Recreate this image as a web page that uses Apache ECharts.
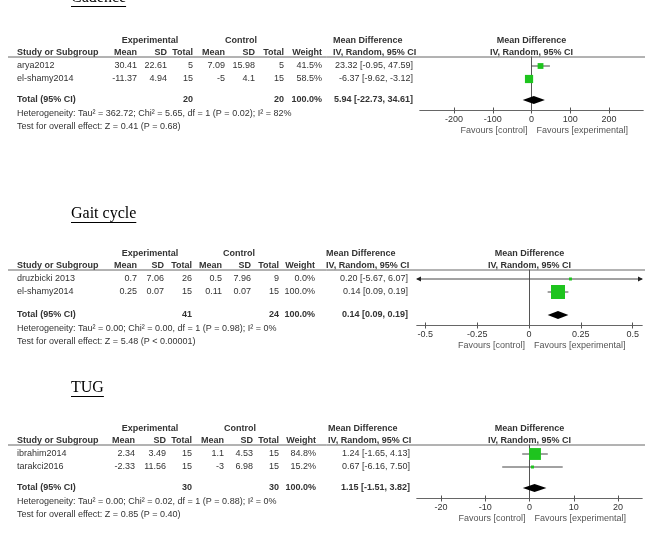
<!DOCTYPE html>
<html>
<head>
<meta charset="utf-8">
<script src="https://cdn.jsdelivr.net/npm/echarts@6/dist/echarts.min.js"></script>
<style>
  html, body { margin: 0; padding: 0; background: #fff; }
  #chart { width: 652px; height: 547px; }
</style>
</head>
<body>
<div id="chart"></div>
<script>
// ---- Cadence ----
const cadStudies = ['arya2012', 'el-shamy2014'];
const cadExpMean = [30.41, -11.37];
const cadExpSD = [22.61, 4.94];
const cadExpN = [5, 15];
const cadCtlMean = [7.09, -5];
const cadCtlSD = [15.98, 4.1];
const cadCtlN = [5, 15];
const cadWeight = [41.5, 58.5];
const cadMD = [23.32, -6.37];
const cadLo = [-0.95, -9.62];
const cadHi = [47.59, -3.12];
const cadTotal = [5.94, -22.73, 34.61];
const cadTicks = [-200, -100, 0, 100, 200];
const cadRange = [-288, 288];
const cadHet = 'Heterogeneity: Tau² = 362.72; Chi² = 5.65, df = 1 (P = 0.02); I² = 82%';
const cadTest = 'Test for overall effect: Z = 0.41 (P = 0.68)';

// ---- Gait cycle ----
const gaitStudies = ['druzbicki 2013', 'el-shamy2014'];
const gaitExpMean = [0.7, 0.25];
const gaitExpSD = [7.06, 0.07];
const gaitExpN = [26, 15];
const gaitCtlMean = [0.5, 0.11];
const gaitCtlSD = [7.96, 0.07];
const gaitCtlN = [9, 15];
const gaitWeight = [0.0, 100.0];
const gaitMD = [0.20, 0.14];
const gaitLo = [-5.67, 0.09];
const gaitHi = [6.07, 0.19];
const gaitTotal = [0.14, 0.09, 0.19];
const gaitTicks = [-0.5, -0.25, 0, 0.25, 0.5];
const gaitRange = [-0.54, 0.545];
const gaitHet = 'Heterogeneity: Tau² = 0.00; Chi² = 0.00, df = 1 (P = 0.98); I² = 0%';
const gaitTest = 'Test for overall effect: Z = 5.48 (P < 0.00001)';

// ---- TUG ----
const tugStudies = ['ibrahim2014', 'tarakci2016'];
const tugExpMean = [2.34, -2.33];
const tugExpSD = [3.49, 11.56];
const tugExpN = [15, 15];
const tugCtlMean = [1.1, -3];
const tugCtlSD = [4.53, 6.98];
const tugCtlN = [15, 15];
const tugWeight = [84.8, 15.2];
const tugMD = [1.24, 0.67];
const tugLo = [-1.65, -6.16];
const tugHi = [4.13, 7.50];
const tugTotal = [1.15, -1.51, 3.82];
const tugTicks = [-20, -10, 0, 10, 20];
const tugRange = [-25.4, 25.4];
const tugHet = 'Heterogeneity: Tau² = 0.00; Chi² = 0.02, df = 1 (P = 0.88); I² = 0%';
const tugTest = 'Test for overall effect: Z = 0.85 (P = 0.40)';

const FONT = '"Liberation Sans", Arial, Helvetica, sans-serif';
const SERIF = '"Liberation Serif", "Times New Roman", serif';
const TXT = '#333';
const ROW = 13; // px per study row

// layout of each block (pixels)
const panels = [
  {
    title: 'Cadence', titleY: -2, lineY: 57, gap: 21,
    cols: [137, 167, 193, 225, 255, 284, 322], expC: 150, ctlC: 241,
    mdLeft: 333, mdRight: 413, gridL: 420, gridR: 643,
    studies: cadStudies, expMean: cadExpMean, expSD: cadExpSD, expN: cadExpN,
    ctlMean: cadCtlMean, ctlSD: cadCtlSD, ctlN: cadCtlN, weight: cadWeight,
    md: cadMD, lo: cadLo, hi: cadHi, total: cadTotal, ticks: cadTicks, range: cadRange,
    het: cadHet, test: cadTest
  },
  {
    title: 'Gait cycle', titleY: 214, lineY: 270, gap: 23,
    cols: [137, 164, 192, 222, 251, 279, 315], expC: 150, ctlC: 239,
    mdLeft: 326, mdRight: 408, gridL: 417, gridR: 642,
    studies: gaitStudies, expMean: gaitExpMean, expSD: gaitExpSD, expN: gaitExpN,
    ctlMean: gaitCtlMean, ctlSD: gaitCtlSD, ctlN: gaitCtlN, weight: gaitWeight,
    md: gaitMD, lo: gaitLo, hi: gaitHi, total: gaitTotal, ticks: gaitTicks, range: gaitRange,
    het: gaitHet, test: gaitTest
  },
  {
    title: 'TUG', titleY: 388, lineY: 445, gap: 21,
    cols: [135, 166, 192, 224, 253, 279, 316], expC: 150, ctlC: 240,
    mdLeft: 328, mdRight: 410, gridL: 417, gridR: 642,
    studies: tugStudies, expMean: tugExpMean, expSD: tugExpSD, expN: tugExpN,
    ctlMean: tugCtlMean, ctlSD: tugCtlSD, ctlN: tugCtlN, weight: tugWeight,
    md: tugMD, lo: tugLo, hi: tugHi, total: tugTotal, ticks: tugTicks, range: tugRange,
    het: tugHet, test: tugTest
  }
];

const measureCtx = document.createElement('canvas').getContext('2d');
function textWidth(s, font) {
  measureCtx.font = font;
  return measureCtx.measureText(s).width;
}

function txt(x, y, s, align, bold, color) {
  return {
    type: 'text', x: x, y: y, silent: true,
    style: {
      text: s, fill: color || TXT,
      font: (bold ? 'bold ' : '') + '9px ' + FONT,
      align: align || 'left', verticalAlign: 'middle'
    }
  };
}
function hline(x1, x2, y, color) {
  return {
    type: 'line', silent: true,
    shape: { x1: x1, y1: y, x2: x2, y2: y },
    style: { stroke: color || '#666', lineWidth: 1 }
  };
}

const ci = (md, lo, hi) => md.toFixed(2) + ' [' + lo.toFixed(2) + ', ' + hi.toFixed(2) + ']';

const graphics = [];
const grids = [], xAxes = [], yAxes = [], series = [];

panels.forEach((p, k) => {
  const n = p.studies.length;
  const rowY = i => p.lineY + 9 + ROW * i;
  const totalY = rowY(n - 1) + p.gap;

  // title, underlined
  const tFont = '16px ' + SERIF;
  graphics.push({
    type: 'text', x: 71, y: p.titleY, silent: true,
    style: { text: p.title, fill: '#000', font: tFont, align: 'left', verticalAlign: 'middle' }
  });
  graphics.push(hline(71, 71 + textWidth(p.title, tFont), p.titleY + 8.5, '#000'));

  // headers
  const plotC = (p.gridL + p.gridR) / 2;
  graphics.push(txt(p.expC, p.lineY - 16, 'Experimental', 'center', true));
  graphics.push(txt(p.ctlC, p.lineY - 16, 'Control', 'center', true));
  graphics.push(txt(p.mdLeft, p.lineY - 16, 'Mean Difference', 'left', true));
  graphics.push(txt(plotC, p.lineY - 16, 'Mean Difference', 'center', true));
  graphics.push(txt(17, p.lineY - 4, 'Study or Subgroup', 'left', true));
  ['Mean', 'SD', 'Total', 'Mean', 'SD', 'Total', 'Weight'].forEach((h, j) => {
    graphics.push(txt(p.cols[j], p.lineY - 4, h, 'right', true));
  });
  graphics.push(txt(p.mdLeft, p.lineY - 4, 'IV, Random, 95% CI', 'left', true));
  graphics.push(txt(plotC, p.lineY - 4, 'IV, Random, 95% CI', 'center', true));
  graphics.push(hline(8, 645, p.lineY, '#666'));

  // study rows
  for (let i = 0; i < n; i++) {
    const y = rowY(i);
    const vals = [p.expMean[i], p.expSD[i], p.expN[i], p.ctlMean[i], p.ctlSD[i], p.ctlN[i]];
    graphics.push(txt(17, y, p.studies[i], 'left'));
    vals.forEach((v, j) => graphics.push(txt(p.cols[j], y, String(v), 'right')));
    graphics.push(txt(p.cols[6], y, p.weight[i].toFixed(1) + '%', 'right'));
    graphics.push(txt(p.mdRight, y, ci(p.md[i], p.lo[i], p.hi[i]), 'right'));
  }

  // total row
  const sumE = p.expN.reduce((a, b) => a + b, 0);
  const sumC = p.ctlN.reduce((a, b) => a + b, 0);
  graphics.push(txt(17, totalY, 'Total (95% CI)', 'left', true));
  graphics.push(txt(p.cols[2], totalY, String(sumE), 'right', true));
  graphics.push(txt(p.cols[5], totalY, String(sumC), 'right', true));
  graphics.push(txt(p.cols[6], totalY, '100.0%', 'right', true));
  graphics.push(txt(p.mdRight, totalY, ci(p.total[0], p.total[1], p.total[2]), 'right', true));
  graphics.push(txt(17, totalY + 13.5, p.het, 'left'));
  graphics.push(txt(17, totalY + 27, p.test, 'left'));

  // forest plot grid; y in row slots (1 slot = ROW px)
  const minSlot = 1 - 9 / ROW;
  const totalSlot = n + p.gap / ROW;
  const maxSlot = totalSlot + 10.5 / ROW;
  p.axisY = p.lineY + (maxSlot - minSlot) * ROW;

  grids.push({
    left: p.gridL, width: p.gridR - p.gridL,
    top: p.lineY, height: (maxSlot - minSlot) * ROW
  });
  const axisBase = {
    type: 'value', gridIndex: k, position: 'bottom',
    min: p.range[0], max: p.range[1],
    splitLine: { show: false },
    axisLine: { show: true, onZero: false, lineStyle: { color: '#666', width: 1 } }
  };
  xAxes.push(Object.assign({}, axisBase, {
    axisTick: { show: true, inside: false, length: 3, customValues: p.ticks, lineStyle: { color: '#555' } },
    axisLabel: { show: true, customValues: p.ticks, margin: 5, fontSize: 9, color: TXT, fontFamily: FONT }
  }));
  xAxes.push(Object.assign({}, axisBase, {
    axisTick: { show: true, inside: true, length: 3, customValues: p.ticks, lineStyle: { color: '#555' } },
    axisLabel: { show: false }
  }));
  yAxes.push({
    type: 'value', gridIndex: k, inverse: true, min: minSlot, max: maxSlot,
    axisLine: { show: true, onZero: true, lineStyle: { color: '#555', width: 1 } },
    axisTick: { show: false }, axisLabel: { show: false }, splitLine: { show: false }
  });

  const data = [];
  for (let i = 0; i < n; i++) data.push([p.md[i], p.lo[i], p.hi[i], i + 1, p.weight[i], 0]);
  data.push([p.total[0], p.total[1], p.total[2], totalSlot, 100, 1]);
  series.push({
    type: 'custom', xAxisIndex: k * 2, yAxisIndex: k,
    renderItem: renderForest, data: data, silent: true, clip: false
  });
});

function renderForest(params, api) {
  const md = api.value(0), lo = api.value(1), hi = api.value(2);
  const slot = api.value(3), w = api.value(4), kind = api.value(5);
  const cs = params.coordSys;
  const c = api.coord([md, slot]);
  let l = api.coord([lo, slot])[0];
  let r = api.coord([hi, slot])[0];
  if (kind === 1) {
    return {
      type: 'polygon',
      shape: { points: [[l, c[1]], [c[0], c[1] - 4], [r, c[1]], [c[0], c[1] + 4]] },
      style: { fill: '#000' }
    };
  }
  const xmin = cs.x, xmax = cs.x + cs.width;
  const arrowL = l < xmin, arrowR = r > xmax;
  l = Math.max(l, xmin);
  r = Math.min(r, xmax);
  const children = [{
    type: 'line', shape: { x1: l, y1: c[1], x2: r, y2: c[1] },
    style: { stroke: '#444', lineWidth: 1 }
  }];
  if (arrowL) children.push({
    type: 'polygon', shape: { points: [[l - 1, c[1]], [l + 4, c[1] - 2.5], [l + 4, c[1] + 2.5]] },
    style: { fill: '#222' }
  });
  if (arrowR) children.push({
    type: 'polygon', shape: { points: [[r + 1, c[1]], [r - 4, c[1] - 2.5], [r - 4, c[1] + 2.5]] },
    style: { fill: '#222' }
  });
  const s = Math.max(3, 14 * w / 100);
  children.push({
    type: 'rect', shape: { x: c[0] - s / 2, y: c[1] - s / 2, width: s, height: s },
    style: { fill: '#1ec41e' }
  });
  return { type: 'group', children: children };
}

const chart = echarts.init(document.getElementById('chart'), null, { renderer: 'canvas' });
chart.setOption({
  backgroundColor: '#fff',
  animation: false,
  grid: grids,
  xAxis: xAxes,
  yAxis: yAxes,
  series: series,
  graphic: graphics
});

// "Favours" captions placed around each zero line
panels.forEach((p, k) => {
  const zx = chart.convertToPixel({ xAxisIndex: k * 2 }, 0);
  const y = p.axisY + 20;
  graphics.push(txt(zx - 4, y, 'Favours [control]', 'right', false, '#555'));
  graphics.push(txt(zx + 5, y, 'Favours [experimental]', 'left', false, '#555'));
});
chart.setOption({ graphic: graphics });
</script>
</body>
</html>
